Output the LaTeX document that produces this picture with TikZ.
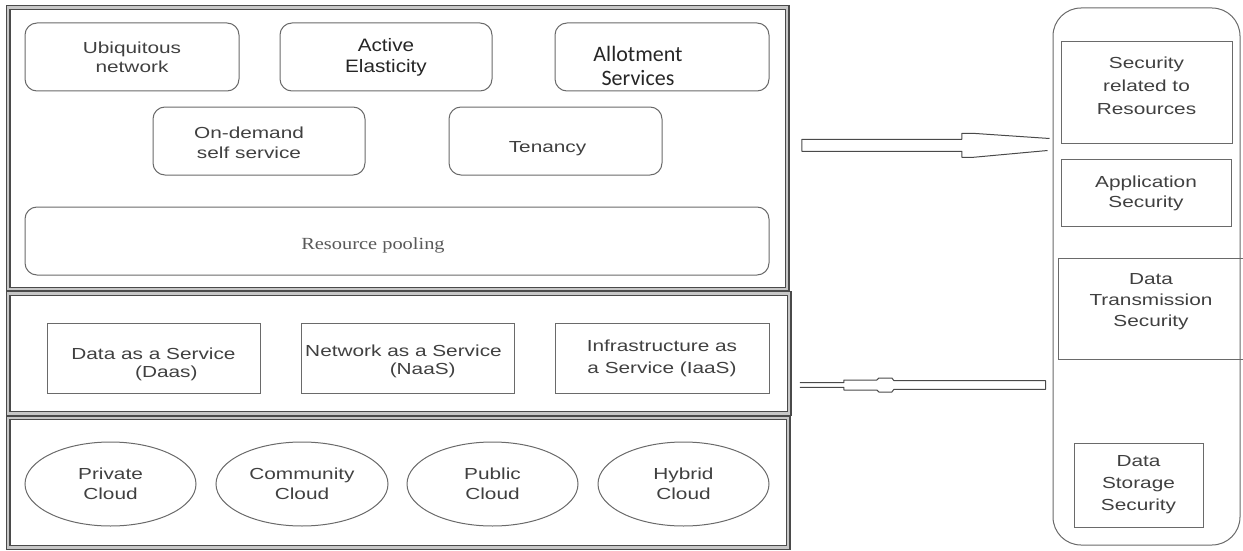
\documentclass[tikz,border=0pt]{standalone}
\usepackage{fontspec}
\setmainfont{Liberation Sans}[FakeStretch=1.3]
\newfontfamily\midfont{Liberation Sans}[FakeStretch=1.15]
\newfontfamily\calfont{Carlito}
\newfontfamily\romfont{Liberation Serif}[FakeStretch=1.2]
\usetikzlibrary{shapes.geometric,calc}

\definecolor{frame}{HTML}{4A4A4A}
\definecolor{boxline}{HTML}{6A6A6A}
\definecolor{txt}{HTML}{404040}

\begin{document}
\begin{tikzpicture}[x=1pt,y=-1pt,
  panel/.style={draw=frame, double=black!22, double distance=2.2pt, line width=1.3pt,
                inner sep=0pt, minimum width=#1},
  rbox/.style={draw=boxline, line width=1pt, rounded corners=12pt, inner sep=0pt,
               minimum height=68pt, align=center, text=txt,
               font=\fontsize{16}{19}\selectfont},
  sbox/.style={draw=boxline, line width=1pt, inner sep=0pt,
               align=center, text=txt, font=\fontsize{16}{20}\selectfont},
  cloud/.style={draw=boxline, line width=1pt, ellipse, inner sep=0pt,
                minimum width=171pt, minimum height=84pt, align=center, text=txt,
                font=\fontsize{16}{20}\selectfont},
  secbox/.style={draw=boxline, line width=1pt, inner sep=0pt,
                 align=center, text=txt, font=\fontsize{16}{22}\selectfont},
  hollow/.style={draw=frame, line width=1pt, line join=round}
]
\useasboundingbox (0,0) rectangle (1243,551);

% three stacked layers on the left
\node[panel=779pt, minimum height=281.5pt] (toplayer) at (397.75,148.25) {};
\node[panel=781pt, minimum height=120pt]   (midlayer) at (398.75,353.5) {};
\node[panel=780pt, minimum height=129.5pt] (botlayer) at (398.25,482.75) {};

% characteristics
\node[rbox, minimum width=214pt] (ubiq) at (132,57) {Ubiquitous\\network};
\node[rbox, minimum width=212pt, text=black!85,
      font=\midfont\fontsize{18}{21}\selectfont] (elast) at (386,57) {Active\\Elasticity};
\node[rbox, minimum width=214pt,
      label={[text=black!85, align=center, font=\calfont\fontsize{22}{24}\selectfont,
              xshift=-24pt, yshift=-9pt]center:Allotment\\Services}] (allot) at (662,57) {};
\node[rbox, minimum width=212pt,
      label={[text=txt, align=center, font=\fontsize{16}{20}\selectfont,
              xshift=-10pt, yshift=-2pt]center:On-demand\\self service}] (ondem) at (259,141) {};
\node[rbox, minimum width=213pt,
      label={[text=txt, font=\fontsize{16}{19}\selectfont,
              xshift=-8pt, yshift=-8pt]center:Tenancy}] (tenancy) at (555.5,141) {};
\node[rbox, minimum width=744pt,
      label={[text=black!65, font=\romfont\fontsize{17}{20}\selectfont,
              xshift=-24pt, yshift=-4pt]center:Resource pooling}] (pool) at (397,241) {};

% service models
\node[sbox, minimum width=213pt, minimum height=70pt,
      label={[text=txt, align=center, font=\fontsize{16}{18}\selectfont,
              yshift=-6pt]center:Data as a Service\\\hspace*{1.6em}(Daas)}] (daas) at (153.5,358) {};
\node[sbox, minimum width=213pt, minimum height=70pt,
      label={[text=txt, align=center, font=\fontsize{16}{18}\selectfont,
              xshift=-4pt, yshift=-3pt]center:Network as a Service\\\hspace*{2.4em}(NaaS)}] (naas) at (407.5,358) {};
\node[sbox, minimum width=214pt, minimum height=70pt, font=\fontsize{16}{22}\selectfont] (iaas) at (662,358) {Infrastructure as\\a Service (IaaS)};

% deployment models
\node[cloud] (private) at (110.5,484) {Private\\Cloud};
\node[cloud, minimum width=172pt] (community) at (302,484) {Community\\Cloud};
\node[cloud] (public) at (492.5,484) {Public\\Cloud};
\node[cloud] (hybrid) at (683.5,484) {Hybrid\\Cloud};

% security column
\node[draw=boxline, line width=1pt, rounded corners=28pt, inner sep=0pt,
      minimum width=187pt, minimum height=537pt] (security) at (1146.5,276.5) {};
\node[secbox, minimum width=171pt, minimum height=101pt,
      label={[text=txt, align=center, font=\fontsize{16}{23}\selectfont,
              yshift=7pt]center:Security\\related to\\Resources}] (secres) at (1146.5,92.5) {};
\node[secbox, minimum width=170pt, minimum height=67pt, font=\fontsize{16}{20}\selectfont] (appsec) at (1146,193) {Application\\Security};
\node[secbox, minimum width=188pt, minimum height=101pt,
      label={[text=txt, align=center, font=\fontsize{16}{21}\selectfont,
              xshift=-1pt, yshift=7pt]center:Data\\Transmission\\Security}] (transsec) at (1152,308.5) {};
\node[secbox, minimum width=129pt, minimum height=84pt] (storesec) at (1138.5,485) {Data\\Storage\\Security};

% hollow arrow from the characteristics layer to the security column
\coordinate (t1) at ($(toplayer.east)+(14,-3)$);
\coordinate (h1) at ($(security.west)+(-3,-131.5)$);
\draw[hollow] ($(h1)+(0,-6.5)$) -- ($(t1)+(170,-12)$) -- ($(t1)+(160,-12)$)
  -- ($(t1)+(160,-6)$) -- ($(t1)+(0,-6)$) -- ($(t1)+(0,6)$) -- ($(t1)+(160,6)$)
  -- ($(t1)+(160,12)$) -- ($(t1)+(172,12)$) -- ($(h1)+(-2,5.5)$);

% hollow arrow from the security column back to the service layer
\coordinate (t2) at ($(security.west)+(-7,108.5)$);
\coordinate (h2) at ($(midlayer.east)+(10,31.5)$);
\draw[hollow] ($(h2)+(0,-2.3)$) -- ($(h2)+(44,-2.3)$) -- ($(h2)+(44,-5)$)
  -- ($(h2)+(77,-5)$) -- ($(h2)+(79,-7)$) -- ($(h2)+(92,-7)$) -- ($(h2)+(94,-4.3)$)
  -- ($(t2)+(0,-4.3)$) -- ($(t2)+(0,4.3)$) -- ($(h2)+(94,4.3)$) -- ($(h2)+(92,7)$)
  -- ($(h2)+(79,7)$) -- ($(h2)+(77,5)$) -- ($(h2)+(44,5)$) -- ($(h2)+(44,2.3)$)
  -- ($(h2)+(0,2.3)$);
\end{tikzpicture}
\end{document}
